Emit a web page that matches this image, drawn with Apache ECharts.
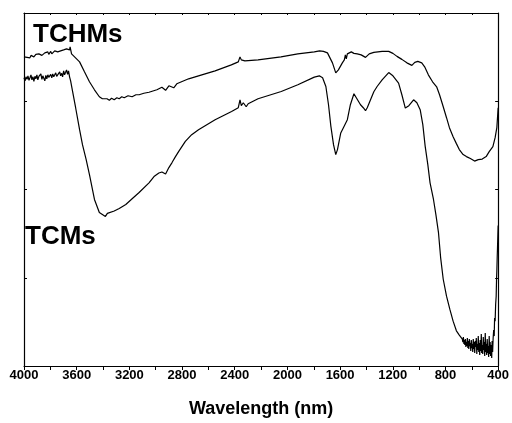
<!DOCTYPE html>
<html>
<head>
<meta charset="utf-8">
<script src="https://cdn.jsdelivr.net/npm/echarts@6/dist/echarts.min.js"></script>
<style>html,body{margin:0;padding:0;background:#fff}#c{width:512px;height:423px}</style>
</head>
<body>
<div id="c"></div>
<script>
// Wavenumber ticks (cm-1), labelled every 400
var xTicks = [4000, 3600, 3200, 2800, 2400, 2000, 1600, 1200, 800, 400];
var seriesNames = ['TCHMs', 'TCMs'];

// TCHMs spectrum: wavenumber / transmittance (a.u.)
var tchmsWn = [4000,3992,3985,3977,3970,3962,3955,3947,3940,3932,3925,3917,3910,3902,3895,3887,3880,3872,3864,3857,3849,3842,3834,3827,3819,3812,3804,3797,3789,3782,3774,3767,3759,3752,3744,3737,3729,3722,3714,3707,3699,3692,3684,3677,3669,3662,3654,3650,3646,3642,3639,
  3578,3541,3503,3465,3428,3405,3390,3370,3352,3335,3315,3295,3277,3258,3239,3210,3179,3150,3126,3090,3051,2991,2953,2925,2900,2885,2863,2840,2825,2750,2675,2549,2426,2373,2360,2350,2323,2223,
  2049,1921,1796,1756,1741,1726,1711,1696,1681,1658,1633,1613,1583,1568,1560,1553,1545,1530,1515,1495,1470,1440,1407,1379,1344,1281,1231,1199,1168,1131,
  1093,1055,1033,1010,980,958,930,898,867,845,817,792,770,742,717,695,666,641,611,579,551,521,491,468,440,423,410,402,400];
var tchmsT = [310,308.5,311,309.5,311.5,310,309,311.5,310.5,312,310,311,312.5,310.5,311.5,313,311,312.5,311.5,313.5,312,314,312.5,313,315,312.5,314,315.5,313,315,314,316,314.5,316.5,315,317,315.5,316,318,315.5,317,318.5,316,318,316.5,319,317,320,317.5,316,313,
  305,295,285,277,270,268,266,268,266.5,268.5,267,269,268,270,269,271,270,272,272,273.5,274.5,277,279.5,276.5,281,281,279,283,285,288,291,296,302,305,310,307,306,307,
  310,313,315,316,317.5,315.5,317,314,312,304,294,297,304,307,312,308,313,311,315,313.5,313,312,309.5,313,314.5,315.5,315.5,313.5,310.5,307.5,
  304,301.5,304.5,305.5,304,300,292,285,280,272,260,249,239,230,223,217,212,210,208,205.5,207,207.5,210,215,220,229,239,255,259];

// TCMs spectrum: wavenumber / transmittance (a.u.)
var tcmsWn = [4000,3992,3985,3977,3970,3962,3955,3947,3940,3932,3925,3917,3910,3902,3895,3887,3880,3872,3864,3857,3849,3842,3834,3827,3819,3812,3804,3797,3789,3782,3774,3767,3759,3752,3744,3737,3729,3722,3714,3707,3699,3692,3684,3677,3669,3662,3658,3654,3646,3639,
  3608,3578,3556,3528,3503,3465,3428,3405,3382,3367,3352,3315,3277,3227,3177,3126,3051,3013,2976,2953,2925,2900,2876,2850,2825,2775,2727,2675,2549,2424,
  2373,2360,2350,2335,2313,2298,2223,2047,1921,1796,1758,1733,1708,1688,1670,1650,1633,1620,1595,1575,1545,1522,1495,1477,1445,1424,1407,1394,1369,1344,
  1319,1281,1231,1199,1156,1131,1105,1078,1042,1017,992,972,954,934,917,891,873,853,837,817,792,767,742,717,695,
  672,668,664,660,657,653,649,645,641,638,634,630,626,623,619,615,611,608,604,600,596,593,589,585,581,578,574,570,566,562,559,555,551,547,543,540,536,532,528,525,521,517,513,509,506,502,498,494,491,487,483,479,476,472,468,464,461,457,453,449,446,442,438,434,430,427,423,419,415,412,410,407,405,402,400];
var tcmsT = [289,286,290,287.5,291,286.5,289,292,287,290,285.5,290.5,288,292,287,290.5,288.5,293,287.5,291,289,286,291.5,288,292,289.5,287.5,292.5,289,293,290,288,294,290.5,292,289,295,291,293.5,290,296,292,294.5,297,292.5,296,293,290,286,281,
  259,237,222,207,192,167,154,152,150,153,151,155.5,158,162,168,174,183.7,190,193.5,194.5,192.5,199,204,210,215.3,225.3,232,237,247,255.3,
  259,267,261,264,260,263,268,275.3,282,289.7,291,289,280.3,262,240.3,222,212,217,233.7,239,247,262,273,269,262,259,256,259,267,275,
  280.3,287,294.3,291,283.7,272,258.7,261,267,264,257,242,220.3,202,183.7,167,152,133.7,109,87,70,57,45,35.3,31,
  27,24,29,22,26,21,27,19,24,20,28,18,25,17,27,20,23,15,26,18,22,14,27,17,24,13,25,19,28,12,22,16,30,14,23,11,26,15,32,13,21,12,29,16,24,10,33,14,22,11,27,13,20,9,30,12,24,10,21,8,25,14,28,36,30,48,45,62,70,88,95,110,118,132,141];

function pairs(wn, t) { return wn.map(function (w, i) { return [w, t[i]]; }); }

var chart = echarts.init(document.getElementById('c'), null, {renderer: 'canvas'});
var axisFont = 'Liberation Sans, Arial, Helvetica, sans-serif';
chart.setOption({
  animation: false,
  backgroundColor: '#fff',
  grid: {left: 24, right: 10, top: 13, bottom: 56, containLabel: false},
  xAxis: [{
    type: 'value', inverse: true, min: 400, max: 4000, interval: 400, position: 'bottom',
    name: 'Wavelength (nm)', nameLocation: 'middle', nameGap: 34,
    nameTextStyle: {fontFamily: axisFont, fontWeight: 'bold', fontSize: 18, color: '#000'},
    axisLine: {show: true, onZero: false, lineStyle: {color: '#000', width: 1.2}},
    axisTick: {show: true, inside: false, length: 4, lineStyle: {color: '#000'}},
    minorTick: {show: true, splitNumber: 2, length: 4, lineStyle: {color: '#000'}},
    axisLabel: {show: true, margin: 3, fontFamily: axisFont, fontWeight: 'bold', fontSize: 13, color: '#000',
      formatter: function (v) { return xTicks.indexOf(v) >= 0 ? String(v) : ''; }},
    splitLine: {show: false}
  }, {
    type: 'value', inverse: true, min: 400, max: 4000, interval: 400, position: 'top',
    axisLine: {show: true, onZero: false, lineStyle: {color: '#000', width: 1.2}},
    axisTick: {show: true, inside: true, length: 2, lineStyle: {color: '#000'}},
    minorTick: {show: true, splitNumber: 2, length: 2, lineStyle: {color: '#000'}},
    axisLabel: {show: false}, splitLine: {show: false}
  }],
  yAxis: [{
    type: 'value', min: 0, max: 354, interval: 88.5, position: 'left',
    axisLine: {show: true, onZero: false, lineStyle: {color: '#000', width: 1.2}},
    axisTick: {show: true, inside: true, length: 3, lineStyle: {color: '#000'}},
    axisLabel: {show: false}, splitLine: {show: false}
  }, {
    type: 'value', min: 0, max: 354, interval: 88.5, position: 'right',
    axisLine: {show: true, onZero: false, lineStyle: {color: '#000', width: 1.2}},
    axisTick: {show: true, inside: true, length: 3, lineStyle: {color: '#000'}},
    axisLabel: {show: false}, splitLine: {show: false}
  }],
  series: [{
    name: seriesNames[0], type: 'line', xAxisIndex: 0, yAxisIndex: 0, showSymbol: false, symbol: 'none',
    lineStyle: {color: '#000', width: 1.2}, data: pairs(tchmsWn, tchmsT)
  }, {
    name: seriesNames[1], type: 'line', xAxisIndex: 0, yAxisIndex: 0, showSymbol: false, symbol: 'none',
    lineStyle: {color: '#000', width: 1.2}, data: pairs(tcmsWn, tcmsT)
  }],
  graphic: [{
    type: 'text', left: 33, top: 22,
    style: {text: seriesNames[0], font: 'bold 26px ' + axisFont, fill: '#000'}
  }, {
    type: 'text', left: 25, top: 224,
    style: {text: seriesNames[1], font: 'bold 26px ' + axisFont, fill: '#000'}
  }]
});
</script>
</body>
</html>
